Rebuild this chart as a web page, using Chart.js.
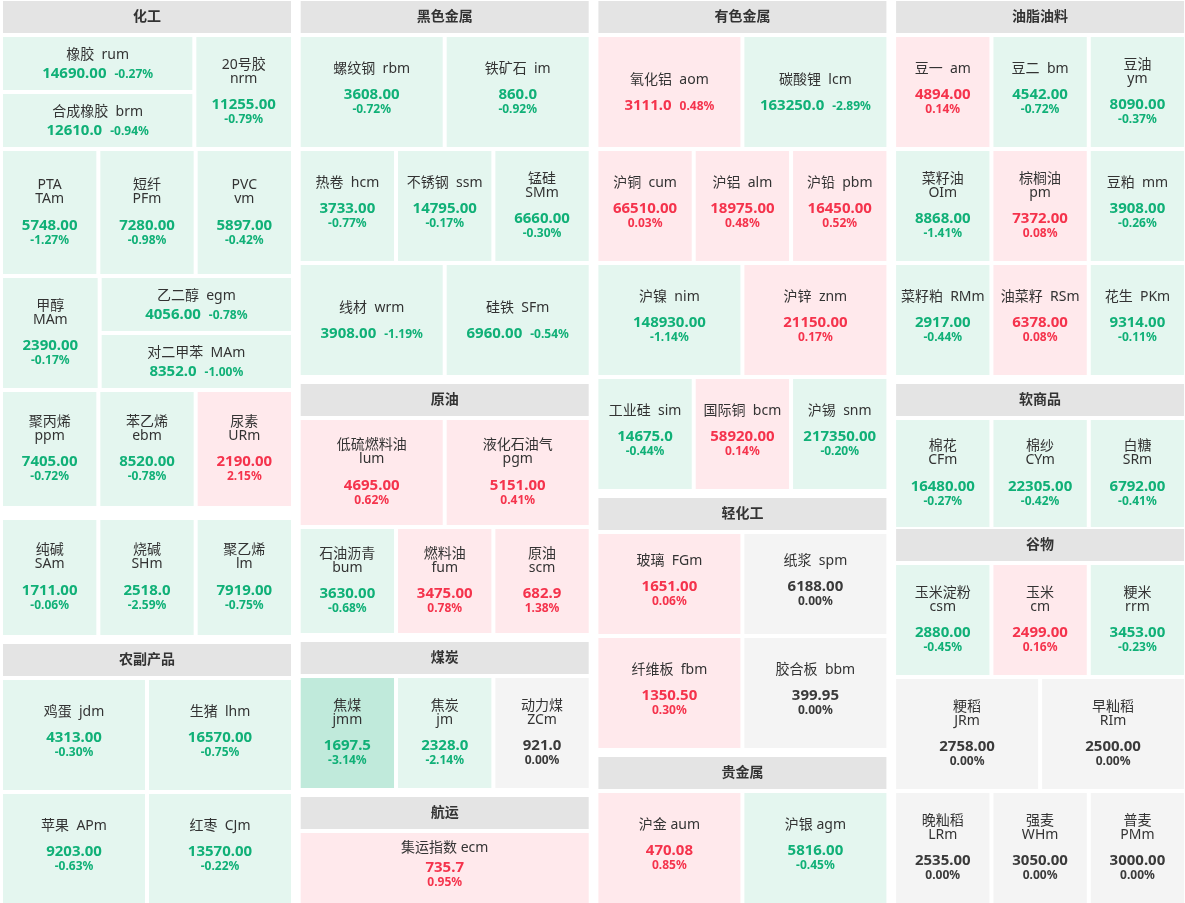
<!DOCTYPE html>
<html>
<head>
<meta charset="utf-8">
<script src="https://cdn.jsdelivr.net/npm/chart.js@4"></script>
<style>
  html, body { margin: 0; padding: 0; background: #fff; overflow: hidden; }
  canvas { display: block; }
</style>
</head>
<body>
<canvas id="board" width="1185" height="903"></canvas>
<script>
// sector names
const sectors = ['化工', '农副产品', '黑色金属', '原油', '煤炭', '航运', '有色金属', '轻化工', '贵金属', '油脂油料', '软商品', '谷物'];

// contracts, in the order they are laid out
const names = ['橡胶', '合成橡胶', '20号胶', 'PTA', '短纤', 'PVC', '甲醇', '乙二醇', '对二甲苯', '聚丙烯', '苯乙烯', '尿素', '纯碱', '烧碱', '聚乙烯',
  '鸡蛋', '生猪', '苹果', '红枣',
  '螺纹钢', '铁矿石', '热卷', '不锈钢', '锰硅', '线材', '硅铁',
  '低硫燃料油', '液化石油气', '石油沥青', '燃料油', '原油',
  '焦煤', '焦炭', '动力煤',
  '集运指数',
  '氧化铝', '碳酸锂', '沪铜', '沪铝', '沪铅', '沪镍', '沪锌', '工业硅', '国际铜', '沪锡',
  '玻璃', '纸浆', '纤维板', '胶合板',
  '沪金', '沪银',
  '豆一', '豆二', '豆油', '菜籽油', '棕榈油', '豆粕', '菜籽粕', '油菜籽', '花生',
  '棉花', '棉纱', '白糖',
  '玉米淀粉', '玉米', '粳米', '粳稻', '早籼稻', '晚籼稻', '强麦', '普麦'];
const codes = ['rum', 'brm', 'nrm', 'TAm', 'PFm', 'vm', 'MAm', 'egm', 'MAm', 'ppm', 'ebm', 'URm', 'SAm', 'SHm', 'lm',
  'jdm', 'lhm', 'APm', 'CJm',
  'rbm', 'im', 'hcm', 'ssm', 'SMm', 'wrm', 'SFm',
  'lum', 'pgm', 'bum', 'fum', 'scm',
  'jmm', 'jm', 'ZCm',
  'ecm',
  'aom', 'lcm', 'cum', 'alm', 'pbm', 'nim', 'znm', 'sim', 'bcm', 'snm',
  'FGm', 'spm', 'fbm', 'bbm',
  'aum', 'agm',
  'am', 'bm', 'ym', 'OIm', 'pm', 'mm', 'RMm', 'RSm', 'PKm',
  'CFm', 'CYm', 'SRm',
  'csm', 'cm', 'rrm', 'JRm', 'RIm', 'LRm', 'WHm', 'PMm'];
const prices = ['14690.00', '12610.0', '11255.00', '5748.00', '7280.00', '5897.00', '2390.00', '4056.00', '8352.0', '7405.00', '8520.00', '2190.00', '1711.00', '2518.0', '7919.00',
  '4313.00', '16570.00', '9203.00', '13570.00',
  '3608.00', '860.0', '3733.00', '14795.00', '6660.00', '3908.00', '6960.00',
  '4695.00', '5151.00', '3630.00', '3475.00', '682.9',
  '1697.5', '2328.0', '921.0',
  '735.7',
  '3111.0', '163250.0', '66510.00', '18975.00', '16450.00', '148930.00', '21150.00', '14675.0', '58920.00', '217350.00',
  '1651.00', '6188.00', '1350.50', '399.95',
  '470.08', '5816.00',
  '4894.00', '4542.00', '8090.00', '8868.00', '7372.00', '3908.00', '2917.00', '6378.00', '9314.00',
  '16480.00', '22305.00', '6792.00',
  '2880.00', '2499.00', '3453.00', '2758.00', '2500.00', '2535.00', '3050.00', '3000.00'];
const changes = [-0.27, -0.94, -0.79, -1.27, -0.98, -0.42, -0.17, -0.78, -1.00, -0.72, -0.78, 2.15, -0.06, -2.59, -0.75,
  -0.30, -0.75, -0.63, -0.22,
  -0.72, -0.92, -0.77, -0.17, -0.30, -1.19, -0.54,
  0.62, 0.41, -0.68, 0.78, 1.38,
  -3.14, -2.14, 0.00,
  0.95,
  0.48, -2.89, 0.03, 0.48, 0.52, -1.14, 0.17, -0.44, 0.14, -0.20,
  0.06, 0.00, 0.30, 0.00,
  0.85, -0.45,
  0.14, -0.72, -0.37, -1.41, 0.08, -0.26, -0.44, 0.08, -0.11,
  -0.27, -0.42, -0.41,
  -0.45, 0.16, -0.23, 0.00, 0.00, 0.00, 0.00, 0.00];

// board structure: 4 columns of sector blocks, rows of cells (w = width share, n = stacked cells)
const columns = [
  [{ s: 0, rows: [{ h: 110, c: [{ w: 2, n: 2 }, 1] }, { h: 123, c: [1, 1, 1] }, { h: 110, c: [1, { w: 2, n: 2 }] },
                  { h: 114, c: [1, 1, 1] }, { h: 115, gap: 10, c: [1, 1, 1] }] },
   { s: 1, rows: [{ h: 110, c: [1, 1] }, { h: 110, c: [1, 1] }] }],
  [{ s: 2, rows: [{ h: 110, c: [1, 1] }, { h: 110, c: [1, 1, 1] }, { h: 110, c: [1, 1] }] },
   { s: 3, rows: [{ h: 105, c: [1, 1] }, { h: 104, c: [1, 1, 1] }] },
   { s: 4, rows: [{ h: 110, c: [1, 1, 1] }] },
   { s: 5, rows: [{ h: 70, c: [1] }] }],
  [{ s: 6, rows: [{ h: 110, c: [1, 1] }, { h: 110, c: [1, 1, 1] }, { h: 110, c: [1, 1] }, { h: 110, c: [1, 1, 1] }] },
   { s: 7, rows: [{ h: 100, c: [1, 1] }, { h: 110, c: [1, 1] }] },
   { s: 8, rows: [{ h: 110, c: [1, 1] }] }],
  [{ s: 9, rows: [{ h: 110, c: [1, 1, 1] }, { h: 110, c: [1, 1, 1] }, { h: 110, c: [1, 1, 1] }] },
   { s: 10, rows: [{ h: 107, c: [1, 1, 1] }] },
   { s: 11, gap: -2, rows: [{ h: 110, c: [1, 1, 1] }, { h: 110, c: [1, 1] }, { h: 110, c: [1, 1, 1] }] }]
];
// i = name line + price/pct on one line, s = name code / price / pct, S = same with single space, w = name / code / price / pct
const textModes = 'iiwwwwwiiwwwwww' + 'ssss' + 'sssswii' + 'wwwww' + 'www' + 'S' +
  'iissssssss' + 'ssss' + 'SS' + 'sswwwssss' + 'www' + 'wwwwwwww';

const FONT = '"Noto Sans", "Noto Sans CJK SC", sans-serif';
const GAP = 4, COLW = 288, HEADH = 32;

// build rectangles (in board units) from the structure
function buildBoard() {
  var headers = [], cells = [];
  var k = 0;
  columns.forEach(function (col, ci) {
    var x0 = 3 + ci * 297.7;
    var y = 1;
    col.forEach(function (grp, gi) {
      if (gi > 0) y += (grp.gap !== undefined ? grp.gap : 5);
      headers.push({ x: x0, y: y, w: COLW, h: HEADH, label: sectors[grp.s] });
      y += HEADH + GAP;
      grp.rows.forEach(function (row) {
        if (row.gap) y += row.gap;
        var specs = row.c.map(function (c) { return typeof c === 'number' ? { w: c, n: 1 } : { w: c.w, n: c.n || 1 }; });
        var sumW = specs.reduce(function (a, b) { return a + b.w; }, 0);
        var avail = COLW - GAP * (specs.length - 1);
        var x = x0;
        specs.forEach(function (sp) {
          var cw = avail * sp.w / sumW;
          var ch = (row.h - GAP * (sp.n - 1)) / sp.n;
          for (var j = 0; j < sp.n; j++) {
            cells.push({ x: x, y: y + j * (ch + GAP), w: cw, h: ch, idx: k, mode: textModes[k] });
            k++;
          }
          x += cw + GAP;
        });
        y += row.h + GAP;
      });
    });
  });
  return { headers: headers, cells: cells };
}

function fillColor(chg) {
  if (chg > 0) return Math.abs(chg) >= 3 ? '#ffd3d9' : '#ffe9ec';
  if (chg < 0) return Math.abs(chg) >= 3 ? '#c0eadb' : '#e4f6ef';
  return '#f4f4f4';
}
function textColor(chg) {
  if (chg > 0) return '#f5334c';
  if (chg < 0) return '#10b077';
  return '#3a3a3a';
}

const board = buildBoard();

const boardPlugin = {
  id: 'board',
  beforeDatasetsDraw(chart) {
    const ctx = chart.ctx;
    const xs = chart.scales.x, ys = chart.scales.y;
    function rect(r) {
      var l = xs.getPixelForValue(r.x), rr = xs.getPixelForValue(r.x + r.w);
      var t = ys.getPixelForValue(r.y), b = ys.getPixelForValue(r.y + r.h);
      return { l: l, t: t, w: rr - l, h: b - t, cx: (l + rr) / 2, cy: (t + b) / 2 };
    }
    ctx.save();
    ctx.textAlign = 'center';
    ctx.textBaseline = 'middle';

    board.headers.forEach(function (hd) {
      var p = rect(hd);
      ctx.fillStyle = '#e4e4e4';
      ctx.fillRect(p.l, p.t, p.w, p.h);
      ctx.fillStyle = '#333';
      ctx.font = 'bold 14px ' + FONT;
      ctx.fillText(hd.label, p.cx, p.cy);
    });

    board.cells.forEach(function (c) {
      var p = rect(c);
      var i = c.idx;
      var chg = changes[i];
      ctx.fillStyle = fillColor(chg);
      ctx.fillRect(p.l, p.t, p.w, p.h);

      var pct = chg.toFixed(2) + '%';
      var col = textColor(chg);
      var compact = p.h < 80;
      var lines, gaps, off;
      if (c.mode === 'w') {
        lines = [['n', names[i]], ['n', codes[i]], ['p', prices[i]], ['c', pct]];
        gaps = [14, 26, 14]; off = 0;
      } else if (c.mode === 'i') {
        lines = [['n', names[i] + '  ' + codes[i]], ['pc', '']];
        gaps = [compact ? 19 : 26]; off = 1;
      } else {
        var sep = c.mode === 'S' ? ' ' : '  ';
        lines = [['n', names[i] + sep + codes[i]], ['p', prices[i]], ['c', pct]];
        gaps = [compact ? 19 : 26, 14]; off = -3;
      }
      var span = gaps.reduce(function (a, b) { return a + b; }, 0);
      var y = p.cy + off - span / 2;
      lines.forEach(function (ln, li) {
        if (ln[0] === 'n') {
          ctx.font = '14px ' + FONT;
          ctx.fillStyle = '#333';
          ctx.fillText(ln[1], p.cx, y);
        } else if (ln[0] === 'p') {
          ctx.font = 'bold 15px ' + FONT;
          ctx.fillStyle = col;
          ctx.fillText(ln[1], p.cx, y);
        } else if (ln[0] === 'c') {
          ctx.font = 'bold 12px ' + FONT;
          ctx.fillStyle = col;
          ctx.fillText(ln[1], p.cx, y + 1);
        } else {
          ctx.font = 'bold 15px ' + FONT;
          var w1 = ctx.measureText(prices[i]).width;
          ctx.font = 'bold 12px ' + FONT;
          var w2 = ctx.measureText(pct).width;
          var tot = w1 + 8 + w2;
          ctx.textAlign = 'left';
          ctx.fillStyle = col;
          ctx.font = 'bold 15px ' + FONT;
          ctx.fillText(prices[i], p.cx - tot / 2, y);
          ctx.font = 'bold 12px ' + FONT;
          ctx.fillText(pct, p.cx - tot / 2 + w1 + 8, y + 1);
          ctx.textAlign = 'center';
        }
        if (li < gaps.length) y += gaps[li];
      });
    });
    ctx.restore();
  }
};

// one invisible point at each cell centre; the plugin paints the cells on the same scales
const centres = board.cells.map(function (c) { return { x: c.x + c.w / 2, y: c.y + c.h / 2 }; });

new Chart(document.getElementById('board').getContext('2d'), {
  type: 'scatter',
  data: { datasets: [{ data: centres, pointRadius: 0, pointHoverRadius: 0 }] },
  options: {
    responsive: false,
    animation: false,
    events: [],
    layout: { padding: 0 },
    plugins: { legend: { display: false }, tooltip: { enabled: false } },
    scales: {
      x: { type: 'linear', min: 0, max: 1185, display: false },
      y: { type: 'linear', min: 0, max: 903, reverse: true, display: false }
    }
  },
  plugins: [boardPlugin]
});
</script>
</body>
</html>
